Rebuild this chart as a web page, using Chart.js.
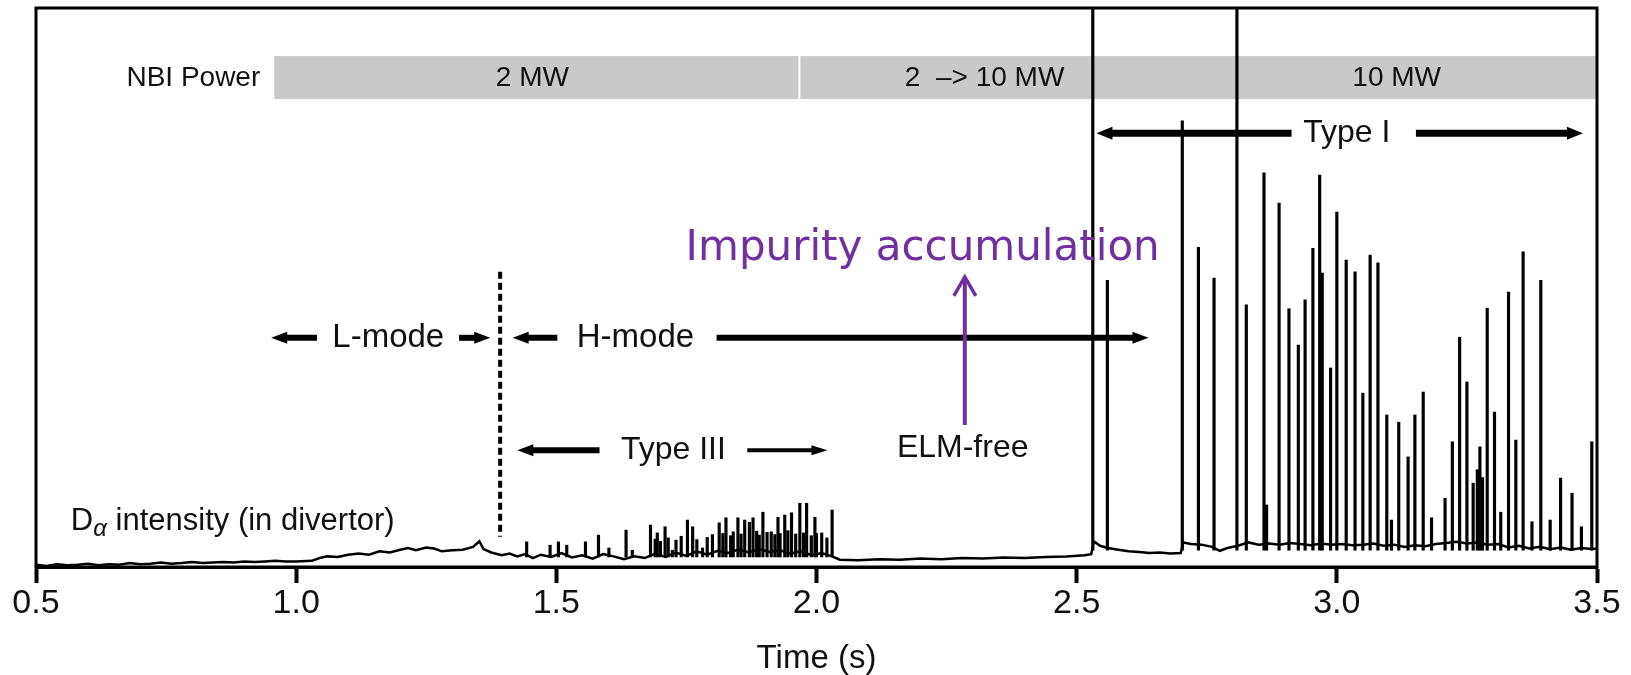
<!DOCTYPE html>
<html>
<head>
<meta charset="utf-8">
<title>D-alpha intensity (in divertor)</title>
<script src="https://cdn.jsdelivr.net/npm/chart.js@4.4.1/dist/chart.umd.min.js"></script>
<style>
  html, body { margin: 0; padding: 0; background: #fff; }
  #wrap { width: 1631px; height: 675px; }
</style>
</head>
<body>
<div id="wrap"><canvas id="chart" width="1631" height="675"></canvas></div>
<script>
// ---- data: D-alpha trace, time in s, intensity in a.u. (100 = top of frame) ----
var xTicks = [0.5, 1.0, 1.5, 2.0, 2.5, 3.0, 3.5];

var traceT = [
  0.500, 0.520, 0.540, 0.560, 0.580, 0.600, 0.620, 0.640, 0.660, 0.680,
  0.700, 0.720, 0.740, 0.760, 0.780, 0.800, 0.820, 0.840, 0.860, 0.880,
  0.900, 0.920, 0.940, 0.960, 0.980, 1.000, 1.030, 1.045, 1.060, 1.080,
  1.100, 1.120, 1.140, 1.160, 1.180, 1.200, 1.215, 1.230, 1.250, 1.265,
  1.280, 1.300, 1.320, 1.340, 1.352, 1.360, 1.375, 1.395, 1.410, 1.425,
  1.440, 1.455, 1.470, 1.490, 1.510, 1.530, 1.550, 1.570, 1.590, 1.610,
  1.630, 1.650, 1.670, 1.690, 1.710, 1.730, 1.750, 1.770, 1.790, 1.810,
  1.830, 1.850, 1.870, 1.890, 1.910, 1.930, 1.950, 1.970, 1.990, 2.010,
  2.030, 2.045, 2.080, 2.120, 2.160, 2.200, 2.240, 2.280, 2.320, 2.360,
  2.400, 2.440, 2.480, 2.515, 2.528, 2.533, 2.545, 2.560, 2.580, 2.600,
  2.620, 2.640, 2.660, 2.680, 2.700, 2.705, 2.720, 2.740, 2.760, 2.775,
  2.790, 2.810, 2.830, 2.850, 2.870, 2.890, 2.910, 2.930, 2.950, 2.970,
  2.990, 3.010, 3.030, 3.050, 3.070, 3.090, 3.110, 3.130, 3.150, 3.170,
  3.190, 3.210, 3.230, 3.250, 3.270, 3.290, 3.310, 3.330, 3.350, 3.370,
  3.390, 3.410, 3.430, 3.450, 3.470, 3.490, 3.500
];
var traceV = [
  0.4, 0.2, 0.5, 0.3, 0.4, 0.6, 0.3, 0.5, 0.4, 0.7,
  0.5, 0.6, 0.8, 0.6, 0.7, 0.9, 0.7, 0.8, 0.9, 0.8,
  1.0, 0.9, 1.0, 1.1, 1.0, 1.0, 1.1, 1.6, 1.9, 1.8,
  2.2, 2.4, 2.2, 2.8, 2.6, 3.1, 3.4, 3.0, 3.5, 3.3,
  2.8, 3.0, 3.1, 3.6, 4.6, 3.2, 2.6, 2.1, 2.4, 1.9,
  2.3, 1.6, 2.2, 1.8, 2.5, 1.7, 2.1, 1.5, 2.3, 1.9,
  1.4, 1.9, 1.6, 2.4, 1.8, 2.6, 2.0, 2.8, 2.2, 2.9,
  2.5, 3.1, 2.6, 3.2, 2.7, 3.0, 2.4, 2.8, 2.1, 2.5,
  1.9, 1.3, 1.2, 1.4, 1.3, 1.5, 1.4, 1.6, 1.5, 1.7,
  1.6, 1.8, 1.9, 2.1, 2.3, 4.6, 3.8, 3.4, 3.1, 2.8,
  2.7, 2.5, 2.6, 2.4, 2.5, 4.4, 4.1, 4.0, 3.6, 2.9,
  3.4, 3.8, 4.4, 4.0, 4.2, 4.0, 4.3, 4.1, 3.9, 4.2,
  4.0, 4.1, 3.9, 4.0, 4.2, 3.8, 4.0, 3.6, 3.9, 3.7,
  4.1, 4.3, 4.5, 4.2, 4.4, 4.0, 4.1, 3.5, 3.8, 3.3,
  3.6, 3.2, 3.5, 3.1, 3.4, 3.2, 3.3
];

// Type III ELMs (1.4 - 2.03 s): spike times and peak values
var t3T = [
  1.443, 1.488, 1.504, 1.520, 1.556, 1.581, 1.601, 1.634, 1.646, 1.681,
  1.690, 1.694, 1.700, 1.709, 1.715, 1.723, 1.730, 1.740, 1.752, 1.762,
  1.770, 1.781, 1.790, 1.800, 1.813, 1.820, 1.826, 1.835, 1.840, 1.849,
  1.855, 1.862, 1.871, 1.878, 1.885, 1.890, 1.897, 1.905, 1.913, 1.920,
  1.926, 1.930, 1.939, 1.945, 1.952, 1.960, 1.968, 1.975, 1.981, 1.990,
  1.997, 2.000, 2.010, 2.020, 2.030
];
var t3Top = [
  4.5, 3.9, 4.5, 3.9, 4.5, 5.7, 3.4, 6.6, 3.0, 7.5,
  5.0, 6.1, 4.6, 7.2, 5.2, 3.0, 4.8, 5.5, 8.4, 7.2,
  4.9, 3.4, 5.3, 5.8, 7.9, 6.0, 8.8, 5.6, 6.3, 8.8,
  5.9, 8.4, 8.0, 8.8, 6.4, 5.7, 9.8, 6.2, 6.3, 5.8,
  8.9, 6.0, 9.3, 6.5, 9.7, 5.9, 11.4, 6.1, 11.4, 5.6,
  8.9, 6.0, 6.1, 5.2, 10.2
];
var t3Base = 1.8;

// Type I ELMs (from 2.53 s)
var t1T = [
  2.531, 2.559, 2.703, 2.734, 2.764, 2.808, 2.826, 2.860, 2.865, 2.889,
  2.908, 2.926, 2.939, 2.954, 2.967, 2.972, 2.988, 3.000, 3.018, 3.035,
  3.050, 3.064, 3.079, 3.096, 3.105, 3.119, 3.137, 3.150, 3.166, 3.182,
  3.208, 3.222, 3.236, 3.250, 3.262, 3.270, 3.275, 3.280, 3.289, 3.303,
  3.315, 3.330, 3.344, 3.358, 3.375, 3.392, 3.410, 3.430, 3.452, 3.470,
  3.490
];
var t1Top = [
  100, 51.3, 79.8, 57.2, 51.7, 100, 46.9, 70.5, 11.1, 65.1,
  46.2, 39.7, 47.8, 57.0, 70.1, 52.6, 35.6, 63.5, 54.9, 52.8,
  31.1, 55.8, 54.4, 27.2, 8.4, 25.9, 19.7, 27.2, 31.3, 8.8,
  12.3, 22.4, 41.1, 33.1, 15.0, 17.4, 21.5, 16.0, 46.3, 27.7,
  9.8, 49.2, 22.7, 56.4, 8.1, 51.3, 8.4, 15.9, 13.2, 7.2,
  22.4
];
var t1Base = 3.0;

// NBI power bar
var nbiEdges = [0.958, 3.5];
var nbiSeparators = [1.967];
var nbiLabels = ['2 MW', '2  \u2013> 10 MW', '10 MW'];
var nbiLabelT = [1.454, 2.323, 3.115];

// ---- annotation layout (time / intensity coordinates) ----
var FONT = "'Liberation Sans', Arial, sans-serif";
var arrows = [
  // fromT, toT, v, line width
  [1.040, 0.952, 41.0, 6],
  [1.313, 1.373, 41.0, 6],
  [1.502, 1.416, 41.0, 6],
  [1.808, 2.638, 41.0, 6],
  [1.583, 1.425, 20.9, 6],
  [1.867, 2.021, 20.9, 4],
  [2.913, 2.538, 77.6, 7],
  [3.152, 3.473, 77.6, 7]
];
var notes = [
  // text, t, v, size
  ['L-mode', 1.177, 41.0, 33],
  ['H-mode', 1.652, 41.0, 33],
  ['Type III', 1.725, 20.9, 32],
  ['ELM-free', 2.281, 21.3, 32],
  ['Type I', 3.019, 77.6, 32]
];

(function () {
  'use strict';

  var trace = traceT.map(function (t, i) { return { x: t, y: traceV[i] }; });
  var elms = t3T.map(function (t, i) { return { x: t, y: [t3Base, t3Top[i]] }; })
    .concat(t1T.map(function (t, i) { return { x: t, y: [t1Base, t1Top[i]] }; }));

  function arrow(ctx, x1, x2, y, w) {
    var dir = x2 > x1 ? 1 : -1;
    var head = 16, half = w / 2 + 3;
    ctx.lineWidth = w;
    ctx.beginPath();
    ctx.moveTo(x1, y);
    ctx.lineTo(x2 - dir * head * 0.6, y);
    ctx.stroke();
    ctx.beginPath();
    ctx.moveTo(x2, y);
    ctx.lineTo(x2 - dir * head, y - half);
    ctx.lineTo(x2 - dir * head, y + half);
    ctx.closePath();
    ctx.fill();
  }

  var decor = {
    id: 'decor',
    beforeDatasetsDraw: function (chart) {
      var ctx = chart.ctx, sx = chart.scales.x, sy = chart.scales.y;
      var top = sy.getPixelForValue(91.4), bot = sy.getPixelForValue(83.7);
      var x0 = sx.getPixelForValue(nbiEdges[0]), x1 = sx.getPixelForValue(nbiEdges[1]);
      ctx.save();
      ctx.fillStyle = '#c9c9c9';
      ctx.fillRect(x0, top, x1 - x0, bot - top);
      ctx.fillStyle = '#ffffff';
      nbiSeparators.forEach(function (t) {
        ctx.fillRect(sx.getPixelForValue(t) - 1, top, 2, bot - top);
      });
      ctx.fillStyle = '#111';
      ctx.font = '28px ' + FONT;
      ctx.textBaseline = 'middle';
      ctx.textAlign = 'center';
      nbiLabels.forEach(function (s, i) {
        ctx.fillText(s, sx.getPixelForValue(nbiLabelT[i]), (top + bot) / 2 + 1);
      });
      ctx.textAlign = 'right';
      ctx.fillText('NBI Power', sx.getPixelForValue(0.931), (top + bot) / 2 + 1);
      ctx.restore();
    },
    afterDatasetsDraw: function (chart) {
      var ctx = chart.ctx, sx = chart.scales.x, sy = chart.scales.y, a = chart.chartArea;
      ctx.save();
      ctx.strokeStyle = '#000';
      ctx.fillStyle = '#000';

      // L/H transition marker
      ctx.lineWidth = 4;
      ctx.setLineDash([7, 4]);
      ctx.beginPath();
      ctx.moveTo(sx.getPixelForValue(1.392), sy.getPixelForValue(52.8));
      ctx.lineTo(sx.getPixelForValue(1.392), sy.getPixelForValue(5.4));
      ctx.stroke();
      ctx.setLineDash([]);

      arrows.forEach(function (r) {
        arrow(ctx, sx.getPixelForValue(r[0]), sx.getPixelForValue(r[1]), sy.getPixelForValue(r[2]), r[3]);
      });

      ctx.fillStyle = '#111';
      ctx.textAlign = 'center';
      ctx.textBaseline = 'middle';
      notes.forEach(function (n) {
        ctx.font = n[3] + 'px ' + FONT;
        ctx.fillText(n[0], sx.getPixelForValue(n[1]), sy.getPixelForValue(n[2]));
      });

      // D-alpha label with subscript
      var lx = sx.getPixelForValue(0.567), ly = sy.getPixelForValue(6.6);
      ctx.textAlign = 'left';
      ctx.textBaseline = 'alphabetic';
      ctx.font = '31px ' + FONT;
      ctx.fillText('D', lx, ly);
      lx += ctx.measureText('D').width;
      ctx.font = 'italic 24px ' + FONT;
      ctx.fillText('\u03b1', lx, ly + 6);
      lx += ctx.measureText('\u03b1').width;
      ctx.font = '31px ' + FONT;
      ctx.fillText(' intensity (in divertor)', lx, ly);

      // impurity note
      var px = sx.getPixelForValue(2.285);
      ctx.strokeStyle = '#7030a0';
      ctx.fillStyle = '#7030a0';
      ctx.lineWidth = 4;
      ctx.beginPath();
      ctx.moveTo(px, sy.getPixelForValue(25.4));
      ctx.lineTo(px, sy.getPixelForValue(51.9));
      ctx.stroke();
      ctx.lineWidth = 3.5;
      ctx.beginPath();
      ctx.moveTo(px - 11, sy.getPixelForValue(51.9) + 19);
      ctx.lineTo(px, sy.getPixelForValue(51.9));
      ctx.lineTo(px + 11, sy.getPixelForValue(51.9) + 19);
      ctx.stroke();
      ctx.font = "42px 'DejaVu Sans', Verdana, sans-serif";
      ctx.textAlign = 'center';
      ctx.fillText('Impurity accumulation', sx.getPixelForValue(2.204), sy.getPixelForValue(54.9));

      // frame
      ctx.strokeStyle = '#000';
      ctx.lineWidth = 3;
      ctx.strokeRect(a.left, a.top, a.right - a.left, a.bottom - a.top);
      ctx.restore();
    }
  };

  Chart.defaults.font.family = FONT;
  Chart.defaults.color = '#111';

  new Chart(document.getElementById('chart'), {
    type: 'line',
    data: {
      datasets: [{
        type: 'line',
        label: 'D\u03b1 intensity',
        data: trace,
        borderColor: '#000',
        borderWidth: 2.5,
        pointRadius: 0,
        tension: 0,
        order: 1
      }, {
        type: 'bar',
        label: 'ELMs',
        data: elms,
        backgroundColor: '#000',
        borderWidth: 0,
        barThickness: function (c) { return c.raw && c.raw.x < 2.1 ? 3 : 2.5; },
        grouped: false,
        order: 2
      }]
    },
    options: {
      responsive: false,
      animation: false,
      layout: { padding: { left: 36, right: 34, top: 8, bottom: 0 } },
      plugins: { legend: { display: false }, tooltip: { enabled: false } },
      scales: {
        x: {
          type: 'linear',
          min: 0.5,
          max: 3.5,
          offset: false,
          afterBuildTicks: function (s) {
            s.ticks = xTicks.map(function (v) { return { value: v }; });
          },
          afterFit: function (s) { s.height = 108; },
          grid: {
            offset: false,
            drawOnChartArea: false,
            drawTicks: true,
            tickLength: 16,
            tickWidth: 4,
            tickColor: '#000'
          },
          border: { display: true, color: '#000', width: 3 },
          ticks: {
            autoSkip: false,
            maxRotation: 0,
            padding: 0,
            color: '#111',
            font: { size: 34 },
            callback: function (v) { return Number(v).toFixed(1); }
          },
          title: {
            display: true,
            text: 'Time (s)',
            color: '#111',
            font: { size: 33, lineHeight: 1 },
            padding: { top: 0, bottom: 0 }
          }
        },
        y: { display: false, min: 0, max: 100 }
      }
    },
    plugins: [decor]
  });
})();
</script>
</body>
</html>
